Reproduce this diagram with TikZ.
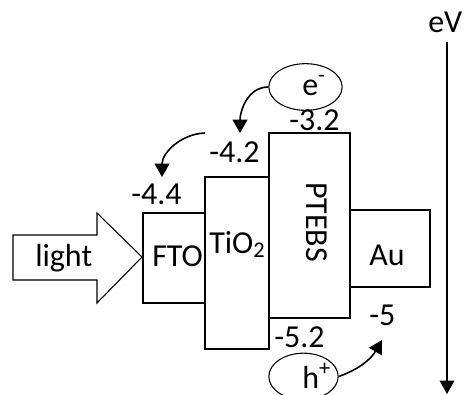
\documentclass[tikz,border=0pt]{standalone}
\usepackage{fontspec}
\setmainfont{Carlito}
\usetikzlibrary{arrows.meta,shapes.geometric,fit}
\tikzset{
  layer/.style={draw, line width=0.8pt, inner sep=0pt},
  tag/.style={font=\fontsize{24}{28}\selectfont, inner sep=0pt, anchor=base west},
  carrier/.style={
    draw,
    ellipse,
    line width=0.8pt,
    inner sep=0pt
  },
  hop/.style={-{Triangle[width=11pt,length=10pt]}, line width=1.2pt},
}
\begin{document}
\begin{tikzpicture}[x=0.75pt, y=-0.75pt]
\useasboundingbox (0,0) rectangle (464,394);
% light arrow
\draw[line width=0.8pt] (13,235) -- (97,235) -- (97,213) -- (142,257)
  -- (97,303) -- (97,280) -- (13,280) -- cycle;
\node[tag] (light) at (35,266) {light};
% layers
\node[layer, fit={(143,213) (205,303)}] (fto) {};
\node[layer, fit={(205,177) (269,349)}] (tio2) {};
\node[layer, fit={(269,133) (350,318)}] (ptebs) {};
\node[layer, fit={(350,210) (430,287)}] (au) {};
\node[tag] (ftotext) at (152,266) {FTO};
\node[tag] (tio2text) at (209,253) {TiO\textsubscript{2}};
\node[tag, rotate=-90] (ptebstext) at (306,182) {PTEBS};
\node[tag] (autext) at (369,265) {Au};
% energy levels
\node[tag] (l44) at (131,204) {-4.4};
\node[tag] (l42) at (209,162) {-4.2};
\node[tag] (l32) at (289,130) {-3.2};
\node[tag] (l52) at (274,347) {-5.2};
\node[tag] (l5) at (369,325) {-5};
% carriers
\node[carrier, minimum width=55pt, minimum height=35pt] (elec) at (305.5,87) {};
\node[carrier, minimum width=52pt, minimum height=35pt] (hole) at (303.5,376.5) {};
\node[tag] (electext) at (302,95) {e\textsuperscript{-}};
\node[tag] (holetext) at (302,388) {h\textsuperscript{+}};
\coordinate (tio2in) at (240,133);
\coordinate (tio2out) at (205,133);
\coordinate (ftoin) at (162,177);
\coordinate (auin) at (382,340);
\draw[hop] (elec.west) to[out=180, in=90] (tio2in);
\draw[hop] (tio2out) to[out=182, in=90] (ftoin);
\draw[hop] (hole.east) to[out=20, in=-120] (auin);
% energy axis
\coordinate (evtop) at (447,42);
\coordinate (evbot) at (447,394);
\draw[-{Triangle[width=11pt,length=10pt]}, line width=0.8pt] (evtop) -- (evbot);
\node[tag] (ev) at (428,32) {eV};
\end{tikzpicture}
\end{document}
